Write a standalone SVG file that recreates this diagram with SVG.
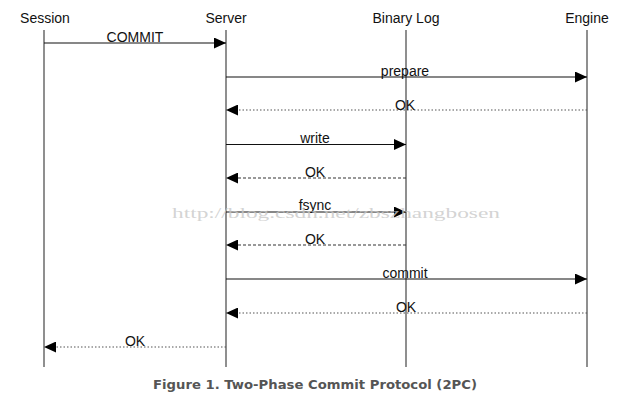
<svg xmlns="http://www.w3.org/2000/svg" width="630" height="410" viewBox="0 0 630 410">
<style>
.lbl{font-family:"Liberation Sans",Arial,sans-serif;font-size:14px;fill:#111;text-anchor:middle}
.life{stroke:#6a6a6a;stroke-width:1.5}
.msg{stroke:#111;stroke-width:1.1;fill:none}
.dot{stroke:#555;stroke-width:1.1;stroke-dasharray:1.5 2;fill:none}
.dash{stroke:#333;stroke-width:1.1;stroke-dasharray:3 2;fill:none}
</style>
<defs>
<marker id="ah" viewBox="0 0 12 11" refX="12" refY="5.5" markerWidth="12" markerHeight="11" markerUnits="userSpaceOnUse" orient="auto">
<path d="M0,0 L12,5.5 L0,11 Z" fill="#000"/>
</marker>
</defs>
<rect width="630" height="410" fill="#fff"/>
<g id="session"><text class="lbl" x="45" y="23">Session</text><line class="life" x1="44" y1="30" x2="44" y2="367"/></g>
<g id="server"><text class="lbl" x="226" y="23">Server</text><line class="life" x1="226" y1="30" x2="226" y2="367"/></g>
<g id="binlog"><text class="lbl" x="406" y="23">Binary Log</text><line class="life" x1="406" y1="30" x2="406" y2="367"/></g>
<g id="engine"><text class="lbl" x="587" y="23">Engine</text><line class="life" x1="587" y1="30" x2="587" y2="367"/></g>
<g id="connectors">
<line class="msg" x1="44" y1="43" x2="226" y2="43" marker-end="url(#ah)"/>
<text class="lbl" x="135" y="41.5">COMMIT</text>
<line class="msg" x1="226" y1="77" x2="587" y2="77" marker-end="url(#ah)"/>
<text class="lbl" x="405" y="76">prepare</text>
<line class="dot" x1="587" y1="110" x2="226" y2="110" marker-end="url(#ah)"/>
<text class="lbl" x="405" y="109.5">OK</text>
<line class="msg" x1="226" y1="144.5" x2="406" y2="144.5" marker-end="url(#ah)"/>
<text class="lbl" x="315" y="143">write</text>
<line class="dash" x1="406" y1="178" x2="226" y2="178" marker-end="url(#ah)"/>
<text class="lbl" x="315" y="177">OK</text>
<line class="msg" x1="226" y1="212" x2="406" y2="212" marker-end="url(#ah)"/>
<text class="lbl" x="315" y="210">fsync</text>
<line class="dash" x1="406" y1="245" x2="226" y2="245" marker-end="url(#ah)"/>
<text class="lbl" x="315" y="244">OK</text>
<line class="msg" x1="226" y1="279" x2="587" y2="279" marker-end="url(#ah)"/>
<text class="lbl" x="405" y="278">commit</text>
<line class="dot" x1="587" y1="313" x2="226" y2="313" marker-end="url(#ah)"/>
<text class="lbl" x="406" y="312">OK</text>
<line class="dot" x1="226" y1="347" x2="44" y2="347" marker-end="url(#ah)"/>
<text class="lbl" x="135" y="346">OK</text>
</g>
<text x="172" y="218" font-family="'Liberation Serif',serif" font-size="15" fill="#c8c8c8" fill-opacity="0.8" textLength="328" lengthAdjust="spacingAndGlyphs">http://blog.csdn.net/zbszhangbosen</text>
<text x="315" y="389" font-family="'DejaVu Sans',sans-serif" font-size="13" font-weight="bold" fill="#555" text-anchor="middle" textLength="324" lengthAdjust="spacingAndGlyphs">Figure 1. Two-Phase Commit Protocol (2PC)</text>
</svg>
